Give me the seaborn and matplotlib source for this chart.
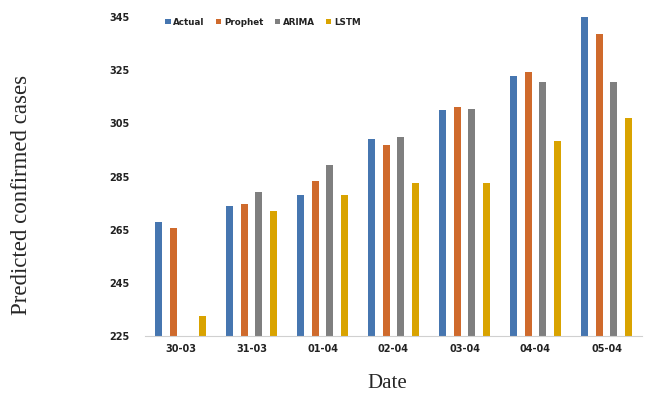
import numpy as np
import pandas as pd
import matplotlib
matplotlib.use("Agg")
import matplotlib.pyplot as plt
import seaborn as sns

dates = ["30-03", "31-03", "01-04", "02-04", "03-04", "04-04", "05-04"]
actual = [268, 274, 278, 299, 310, 323, 345]
prophet = [265.5, 274.5, 283.5, 297, 311, 324.5, 338.5]
arima = [np.nan, 279, 289.5, 300, 310.5, 320.5, 320.5]
lstm = [232.5, 272, 278, 282.5, 282.5, 298.5, 307]
models = ["Actual", "Prophet", "ARIMA", "LSTM"]
colors = ["#4676B0", "#CF6A2C", "#7F7F7F", "#D9A300"]

df = pd.DataFrame({"Date": dates, "Actual": actual, "Prophet": prophet,
                   "ARIMA": arima, "LSTM": lstm})
long = df.melt(id_vars="Date", var_name="Model", value_name="Cases")

sns.set_style("white")
plt.rcParams["font.family"] = ["DejaVu Sans"]

fig = plt.figure(figsize=(6.57, 4.0), dpi=100)
ax = fig.add_axes([145/657, 0.16, 497/657, 0.82])

sns.barplot(data=long, x="Date", y="Cases", hue="Model", hue_order=models,
            palette=colors, width=0.82, gap=0.5, ax=ax, saturation=1,
            edgecolor="none", linewidth=0, legend=True)

ax.set_ylim(225, 348.4)
ax.set_yticks(np.arange(225, 346, 20))
ax.set_xlim(-0.5, 6.5)
for lab in ax.get_yticklabels() + ax.get_xticklabels():
    lab.set_fontsize(7)
    lab.set_fontweight("bold")
    lab.set_color("#222222")
ax.tick_params(axis="y", length=0, pad=11)
ax.tick_params(axis="x", which="major", length=0, pad=6)
ax.set_xticks(np.arange(-0.5, 7.0, 1), minor=True)
ax.tick_params(axis="x", which="minor", length=4, color="#D0D0D0", width=0.8)

for s in ["top", "right", "left"]:
    ax.spines[s].set_visible(False)
ax.spines["bottom"].set_color("#D0D0D0")
ax.spines["bottom"].set_linewidth(0.8)

ax.set_ylabel("")
ax.set_xlabel("")
fig.text(22/657, 1 - 195/400, "Predicted confirmed cases", rotation=90,
         ha="center", va="center", family="Liberation Serif", fontsize=16.5)
fig.text(387/657, 1 - 383/400, "Date", ha="center", va="center",
         family="Liberation Serif", fontsize=15)

leg = ax.legend(loc="upper left", ncol=4, frameon=False,
                bbox_to_anchor=(0.025, 0.995), handlelength=0.6,
                handleheight=0.6, handletextpad=0.3, columnspacing=1.3,
                prop={"weight": "bold", "size": 6.3})
for t in leg.get_texts():
    t.set_color("#222222")

fig.savefig("out.png", dpi=100)
